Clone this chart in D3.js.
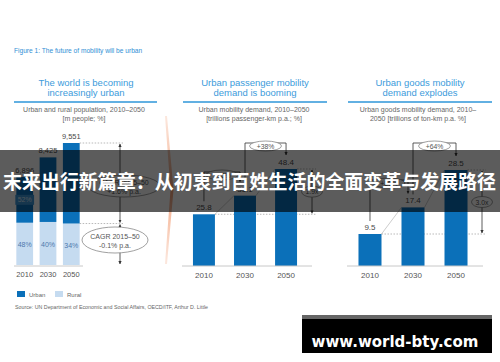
<!DOCTYPE html>
<html><head><meta charset="utf-8">
<script src="https://cdn.jsdelivr.net/npm/d3@7"></script>
<style>
html,body{margin:0;padding:0;background:#fff;}
svg{display:block;font-family:"Liberation Sans",Arial,sans-serif;}
</style></head>
<body>
<svg id="chart" width="500" height="362"></svg>
<script>
// ---------- data ----------
const years = ["2010", "2030", "2050"];
const popTotal = [6896, 8425, 9551];
const urbanShare = [52, 60, 66];
const ruralShare = [48, 40, 34];
const popCagr = ["+1.6% p.a.", "-0.1% p.a."];
const passenger = [25.8, 35.1, 48.4];
const passengerGrowth = ["+36%", "+38%"];
const passengerMultiple = "1.9x";
const goods = [9.5, 17.4, 28.5];
const goodsGrowth = ["+83%", "+64%"];
const goodsMultiple = "3.0x";
const legendItems = ["Urban", "Rural"];
const panelTitles = [
  ["The world is becoming", "increasingly urban"],
  ["Urban passenger mobility", "demand is booming"],
  ["Urban goods mobility", "demand explodes"]
];
const panelSubtitles = [
  ["Urban and rural population, 2010\u20132050", "[m people; %]"],
  ["Urban mobility demand, 2010\u20132050", "[trillions passenger-km p.a.; %]"],
  ["Urban goods mobility demand, 2010\u2013", "2050 [trillions of ton-km p.a. %]"]
];
const figureTitle = "Figure 1: The future of mobility will be urban";
const sourceText = "Source: UN Department of Economic and Social Affairs, OECD/ITF,  Arthur D. Little";
const bannerText = "末来出行新篇章：从初衷到百姓生活的全面变革与发展路径";
const watermark = "www.world-bty.com";

// ---------- styles ----------
const C = {
  urban: "#0b70b9", rural: "#c5dbf0", title: "#3c9bdb", sub: "#666",
  label: "#4a4a4a", line: "#333", dotted: "#8a8a8a", axis: "#c8c8c8", pct: "#4f79ad"
};
const svg = d3.select("#chart");
const defs = svg.append("defs");
defs.append("marker").attr("id", "arr").attr("viewBox", "0 0 10 10")
  .attr("refX", 9).attr("refY", 5).attr("markerWidth", 4).attr("markerHeight", 4)
  .attr("orient", "auto-start-reverse")
  .append("path").attr("d", "M0,0L10,5L0,10z").attr("fill", C.line);
const grad = defs.append("linearGradient").attr("id", "chev").attr("x1", 0).attr("y1", 0).attr("x2", 0).attr("y2", 1);
grad.append("stop").attr("offset", "0%").attr("stop-color", "#f7c4ab").attr("stop-opacity", 0.4);
grad.append("stop").attr("offset", "50%").attr("stop-color", "#f29c74").attr("stop-opacity", 0.95);
grad.append("stop").attr("offset", "100%").attr("stop-color", "#f7c4ab").attr("stop-opacity", 0.4);

// ---------- titles ----------
svg.append("text").attr("x", 14).attr("y", 53).attr("font-size", 6.6)
  .attr("fill", "#2f8fd5").text(figureTitle);

const panelCenters = [86, 255, 420];
const lineSpans = [[14, 157], [183, 327], [348, 492]];
const subCenters = [84, 254, 418];
panelTitles.forEach((t, i) => {
  const g = svg.append("g");
  t.forEach((s, j) => g.append("text").attr("x", panelCenters[i]).attr("y", 86 + j * 10)
    .attr("text-anchor", "middle").attr("font-size", 9.5).attr("fill", C.title).text(s));
  g.append("line").attr("x1", lineSpans[i][0]).attr("x2", lineSpans[i][1])
    .attr("y1", 102).attr("y2", 102).attr("stroke", "#62b0e2").attr("stroke-width", 2);
  panelSubtitles[i].forEach((s, j) => g.append("text").attr("x", subCenters[i]).attr("y", 112 + j * 9)
    .attr("text-anchor", "middle").attr("font-size", 7).attr("fill", C.sub).text(s));
});

function drawAxis(x, y, fs, x0, x1) {
  const g = svg.append("g").attr("transform", `translate(0,${y})`)
    .call(d3.axisBottom(x).tickSize(0).tickPadding(6));
  g.select(".domain").attr("stroke", C.axis).attr("d", `M${x0},0H${x1}`);
  g.selectAll("text").attr("font-size", fs).attr("fill", "#555")
    .attr("font-family", '"Liberation Sans",Arial,sans-serif');
}

// ---------- panel 1: population ----------
const x1 = d3.scaleBand().domain(years).range([14, 82]).paddingInner(0.28).paddingOuter(0.1);
const y1 = d3.scaleLinear().domain([0, d3.max(popTotal)]).range([265, 143]);
const popData = years.map((yr, i) => ({
  yr, total: popTotal[i], rural: popTotal[i] * ruralShare[i] / 100,
  urbanPct: urbanShare[i], ruralPct: ruralShare[i]
}));
const p1 = svg.append("g");
p1.selectAll(".rural").data(popData).join("rect")
  .attr("x", d => x1(d.yr)).attr("width", x1.bandwidth())
  .attr("y", d => y1(d.rural)).attr("height", d => y1(0) - y1(d.rural)).attr("fill", C.rural);
p1.selectAll(".urban").data(popData).join("rect")
  .attr("x", d => x1(d.yr)).attr("width", x1.bandwidth())
  .attr("y", d => y1(d.total)).attr("height", d => y1(d.rural) - y1(d.total)).attr("fill", C.urban);
p1.selectAll(".tot").data(popData).join("text")
  .attr("x", d => x1(d.yr) + x1.bandwidth() / 2).attr("y", d => y1(d.total) - 4)
  .attr("text-anchor", "middle").attr("font-size", 7.5).attr("fill", C.label)
  .text(d => d3.format(",")(d.total));
p1.selectAll(".rp").data(popData).join("text")
  .attr("x", d => x1(d.yr) + x1.bandwidth() / 2).attr("y", d => y1(d.rural / 2) + 3.5)
  .attr("text-anchor", "middle").attr("font-size", 7).attr("fill", C.pct)
  .text(d => d.ruralPct + "%");
// urban share label (first year)
{
  const d = popData[0];
  const cy = (y1(d.total) + y1(d.rural)) / 2;
  p1.append("rect").attr("x", x1(d.yr) - 1).attr("width", x1.bandwidth() + 2)
    .attr("y", cy - 5).attr("height", 10).attr("fill", "#3f95d6");
  p1.append("text").attr("x", x1(d.yr) + x1.bandwidth() / 2).attr("y", cy + 2.5)
    .attr("text-anchor", "middle").attr("font-size", 7).attr("fill", "#d6e8f7")
    .text(d.urbanPct + "%");
}
drawAxis(x1, 266, 7.5, 14, 83);
// bracket
{
  const last = popData[popData.length - 1];
  const bx = 120, right = x1(last.yr) + x1.bandwidth();
  const yTop = y1(last.total), yMid = y1(last.rural), yBot = y1(0);
  [yTop, yMid].forEach(yy => p1.append("line").attr("x1", right).attr("x2", bx + 3)
    .attr("y1", yy).attr("y2", yy).attr("stroke", C.dotted).attr("stroke-width", 0.6)
    .attr("stroke-dasharray", "1.5,1.5"));
  [[yTop, yMid], [yMid, yBot]].forEach(([a, b]) => p1.append("line")
    .attr("x1", bx).attr("x2", bx).attr("y1", a + 1).attr("y2", b - 1)
    .attr("stroke", C.line).attr("stroke-width", 0.8)
    .attr("marker-start", "url(#arr)").attr("marker-end", "url(#arr)"));
  const ells = [{ cx: 124, cy: 186, rx: 36, ry: 11, t: popCagr[0] },
                { cx: 115, cy: 240, rx: 33, ry: 13, t: popCagr[1] }];
  ells.forEach(e => {
    p1.append("ellipse").attr("cx", e.cx).attr("cy", e.cy).attr("rx", e.rx).attr("ry", e.ry)
      .attr("fill", "#fff").attr("stroke", "#777").attr("stroke-width", 0.7);
    p1.append("text").attr("x", e.cx).attr("y", e.cy - 1).attr("text-anchor", "middle")
      .attr("font-size", 7).attr("fill", "#555").text("CAGR 2015\u201350");
    p1.append("text").attr("x", e.cx).attr("y", e.cy + 8).attr("text-anchor", "middle")
      .attr("font-size", 7).attr("fill", "#555").text(e.t);
  });
}
// chevron
svg.append("path").attr("d", "M165,116L167,116L173.5,190L167,264L165,264L170.5,190Z")
  .attr("fill", "url(#chev)");

// ---------- bar panels 2 & 3 ----------
function barPanel(vals, growth, multiple, range, yTopPix, firstTop, bracketX) {
  const x = d3.scaleBand().domain(years).range(range).paddingInner(0.465).paddingOuter(0.267);
  const y = d3.scaleLinear().domain([0, d3.max(vals)]).range([266, yTopPix]);
  const data = years.map((yr, i) => ({ yr, v: vals[i] }));
  const g = svg.append("g");
  const cx = d => x(d.yr) + x.bandwidth() / 2;
  for (let i = 0; i < data.length - 1; i++) {
    g.append("line").attr("x1", x(data[i].yr) + x.bandwidth()).attr("y1", y(data[i].v))
      .attr("x2", x(data[i + 1].yr)).attr("y2", y(data[i + 1].v))
      .attr("stroke", "#aaa").attr("stroke-width", 0.6);
  }
  const first = data[0], last = data[data.length - 1];
  g.append("line").attr("x1", x(first.yr) + x.bandwidth()).attr("x2", bracketX + 4)
    .attr("y1", y(first.v)).attr("y2", y(first.v)).attr("stroke", C.dotted)
    .attr("stroke-width", 0.6).attr("stroke-dasharray", "1.5,1.5");
  g.append("line").attr("x1", x(last.yr) + x.bandwidth()).attr("x2", bracketX + 4)
    .attr("y1", y(last.v)).attr("y2", y(last.v)).attr("stroke", C.dotted)
    .attr("stroke-width", 0.6).attr("stroke-dasharray", "1.5,1.5");
  g.selectAll(".bar").data(data).join("rect")
    .attr("x", d => x(d.yr)).attr("width", x.bandwidth())
    .attr("y", d => y(d.v)).attr("height", d => y(0) - y(d.v)).attr("fill", C.urban);
  g.selectAll(".val").data(data).join("text")
    .attr("x", cx).attr("y", d => y(d.v) - 4).attr("text-anchor", "middle")
    .attr("font-size", 8).attr("fill", C.label).text(d => d3.format(".1f")(d.v));
  const tops = [firstTop, 143];
  for (let i = 0; i < data.length - 1; i++) {
    const a = data[i], b = data[i + 1];
    const xa = cx(a), xb = cx(b) - (i === 0 ? 5 : 0);
    const yt = tops[i];
    g.append("path").attr("d", `M${xa},${y(a.v) - 13}V${yt}H${xb}V${y(b.v) - 14}`)
      .attr("fill", "none").attr("stroke", C.line).attr("stroke-width", 0.8)
      .attr("marker-end", "url(#arr)");
    const ex = (xa + xb) / 2;
    g.append("ellipse").attr("cx", ex).attr("cy", yt + 3).attr("rx", 16).attr("ry", 5)
      .attr("fill", "#fff").attr("stroke", "#777").attr("stroke-width", 0.7);
    g.append("text").attr("x", ex).attr("y", yt + 5.5).attr("text-anchor", "middle")
      .attr("font-size", 6.8).attr("fill", "#555").text(growth[i]);
  }
  g.append("line").attr("x1", bracketX).attr("x2", bracketX)
    .attr("y1", y(first.v) - 1).attr("y2", y(last.v) + 1)
    .attr("stroke", C.line).attr("stroke-width", 0.8)
    .attr("marker-start", "url(#arr)").attr("marker-end", "url(#arr)");
  const my = (y(first.v) + y(last.v)) / 2;
  g.append("ellipse").attr("cx", bracketX).attr("cy", my).attr("rx", 10.5).attr("ry", 5.5)
    .attr("fill", "#fff").attr("stroke", "#777").attr("stroke-width", 0.7);
  g.append("text").attr("x", bracketX).attr("y", my + 2.5).attr("text-anchor", "middle")
    .attr("font-size", 6.8).attr("fill", "#555").text(multiple);
  drawAxis(x, 266, 8, range[0], range[1] + 4);
}
barPanel(passenger, passengerGrowth, passengerMultiple, [182, 308], 169, 172, 312);
barPanel(goods, goodsGrowth, goodsMultiple, [347, 479], 170, 180, 482);

// ---------- legend & source ----------
const leg = svg.append("g");
const legColors = [C.urban, C.rural];
const legX = [17, 55];
legendItems.forEach((t, i) => {
  leg.append("rect").attr("x", legX[i]).attr("y", 291).attr("width", 8).attr("height", 6)
    .attr("fill", legColors[i]);
  leg.append("text").attr("x", legX[i] + 12).attr("y", 297).attr("font-size", 6)
    .attr("fill", "#666").text(t);
});
svg.append("text").attr("x", 15).attr("y", 309).attr("font-size", 5.3).attr("fill", "#666")
  .text(sourceText);

// ---------- overlay banner ----------
svg.append("rect").attr("x", 0).attr("y", 150).attr("width", 500).attr("height", 62)
  .attr("fill", "#000").attr("opacity", 0.64);
svg.append("text").attr("x", 3).attr("y", 189).attr("font-size", 19.5)
  .attr("font-weight", "bold").attr("fill", "#fff")
  .attr("font-family", '"Noto Sans CJK SC",sans-serif')
  .attr("textLength", 493).attr("lengthAdjust", "spacingAndGlyphs").text(bannerText);

// ---------- watermark ----------
svg.append("rect").attr("x", 302).attr("y", 315).attr("width", 190).attr("height", 4).attr("fill", "#666");
svg.append("rect").attr("x", 302).attr("y", 319).attr("width", 190).attr("height", 34).attr("fill", "#000");
svg.append("text").attr("x", 395).attr("y", 347).attr("text-anchor", "middle")
  .attr("font-size", 15).attr("font-weight", "bold").attr("fill", "#fff")
  .attr("font-family", '"DejaVu Sans",sans-serif').text(watermark);
</script>
</body></html>
